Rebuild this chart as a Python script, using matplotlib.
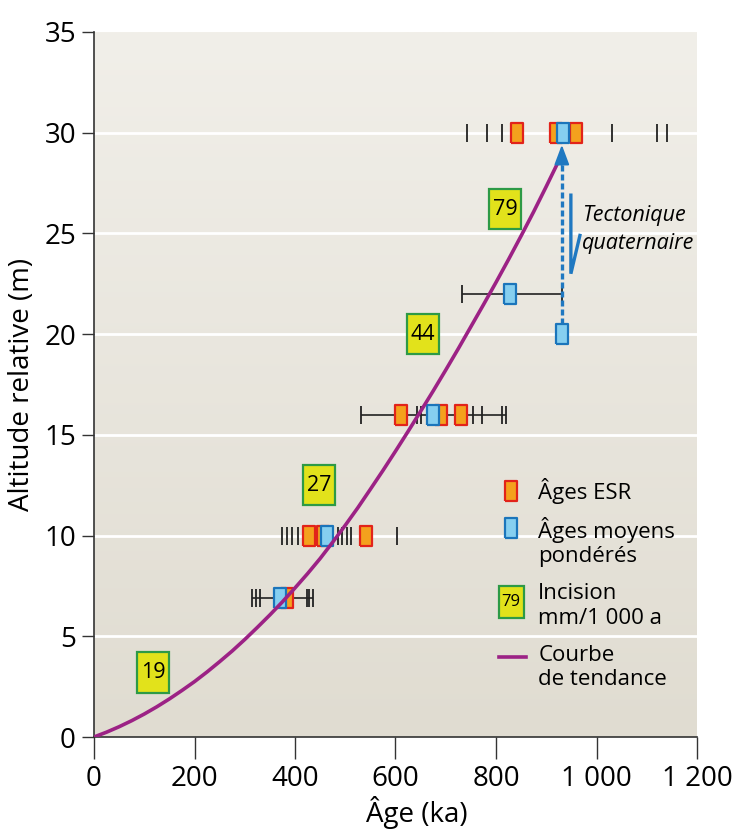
import numpy as np
import matplotlib
matplotlib.use("Agg")
import matplotlib.pyplot as plt
from matplotlib.patches import Rectangle

# --- DATA ----------------------------------------------------------
# ESR ages (ka) and their relative altitude (m)
esr_age = [842, 920, 960, 610, 690, 730, 428, 455, 541, 385]
esr_alt = [30, 30, 30, 16, 16, 16, 10, 10, 10, 6.9]

# weighted mean ages
mean_age = [933, 828, 931, 674, 464, 371]
mean_alt = [30, 22, 20, 16, 10, 6.9]

# individual age estimates / range ends (tick marks)
ind_age = [742, 782, 812, 1031, 1120, 1140,
           732, 931,
           531, 643, 650, 755, 773, 812, 820,
           374, 384, 394, 406, 485, 493, 503, 512, 602,
           315, 322, 330, 423, 428, 435]
ind_alt = [30] * 6 + [22] * 2 + [16] * 7 + [10] * 9 + [6.9] * 6

# age ranges drawn as horizontal lines
range_alt = [22, 16, 6.9]
range_lo = [732, 531, 315]
range_hi = [931, 820, 435]

# incision rates (mm/1000 a)
inc_rate = [19, 27, 44, 79]
inc_age = [118, 448, 655, 818]
inc_alt = [3.2, 12.5, 20.0, 26.2]

# trend curve
trend_age = [0, 25, 50, 75, 100, 125, 150, 175, 200, 225, 250, 275, 300,
             325, 350, 375, 400, 425, 450, 475, 500, 525, 550, 575, 600,
             625, 650, 675, 700, 725, 750, 775, 800, 825, 850, 875, 900, 925]
trend_alt = [0, 0.24, 0.51, 0.81, 1.14, 1.50, 1.89, 2.31, 2.75, 3.23, 3.74,
             4.27, 4.84, 5.44, 6.06, 6.71, 7.40, 8.11, 8.86, 9.67, 10.51,
             11.38, 12.30, 13.23, 14.19, 15.17, 16.17, 17.18, 18.22, 19.28,
             20.37, 21.46, 22.57, 23.71, 24.88, 26.08, 27.33, 28.61]

# tectonic uplift: lowered terrace -> its projected position
tecto_age = 931
tecto_from = 20.5
tecto_to = 29.4

# --- STYLE ---------------------------------------------------------
plt.rcParams['font.family'] = ['Open Sans', 'DejaVu Sans']
orange, red = "#f4a11d", "#e2231a"
lblue, dblue = "#86cff0", "#1b75bb"
yellow, green = "#e2e21b", "#2d9a46"
purple = "#9c2285"
arrow_blue = "#1f78c1"

box = [(-0.31, -0.5), (0.31, -0.5), (0.31, 0.5), (-0.31, 0.5), (-0.31, -0.5)]

fig = plt.figure(figsize=(7.36, 8.32), dpi=100)
ax = fig.add_axes([94 / 736, 1 - 737 / 832, 603 / 736, 705 / 832])

# background gradient, light at the top
grad = np.linspace(0, 1, 256).reshape(-1, 1)
cmap = matplotlib.colors.LinearSegmentedColormap.from_list("bg", ["#f1efe9", "#e0dcd1"])
ax.imshow(grad, extent=[0, 1200, 0, 35], aspect="auto", cmap=cmap, zorder=0)

for yv in [5, 10, 15, 20, 25, 30]:
    ax.axhline(yv, color="white", lw=2, zorder=1)

ax.hlines(range_alt, range_lo, range_hi, color="#222222", lw=1.2, zorder=2)
ax.plot(ind_age, ind_alt, ls="none", marker="|", ms=12.5, mew=1.3, color="#222222", zorder=3)
ax.plot(esr_age, esr_alt, ls="none", marker=box, ms=14.5, mfc=orange, mec=red, mew=1.6, zorder=4)
ax.plot(mean_age, mean_alt, ls="none", marker=box, ms=14.5, mfc=lblue, mec=dblue, mew=1.6, zorder=5)

ax.plot(trend_age, trend_alt, color=purple, lw=2.6, zorder=6,
        solid_capstyle="round", solid_joinstyle="round")

# tectonic arrow
ax.plot([tecto_age, tecto_age], [tecto_from, tecto_to - 0.9], color=arrow_blue,
        lw=2.4, ls=(0, (1.8, 0.9)), zorder=4)
ax.annotate("", xy=(tecto_age, tecto_to), xytext=(tecto_age, tecto_to - 1.0),
            arrowprops=dict(arrowstyle="-|>,head_length=1.2,head_width=0.45",
                            color=arrow_blue, lw=1.5, shrinkA=0, shrinkB=0), zorder=7)
ax.plot([949, 949, 967], [26.9, 23.0, 24.9], color=arrow_blue, lw=2.4,
        solid_joinstyle="miter", zorder=4)
ax.text(972, 25.9, "Tectonique", style="italic", fontsize=15.5, va="center", ha="left")
ax.text(971, 24.5, "quaternaire", style="italic", fontsize=15.5, va="center", ha="left")

# incision boxes (about 32 x 40 px)
bw, bh = 64, 2.0
for r, a, h in zip(inc_rate, inc_age, inc_alt):
    ax.add_patch(Rectangle((a - bw / 2, h - bh / 2), bw, bh, fc=yellow, ec=green,
                           lw=1.6, zorder=5))
    ax.text(a, h, str(r), fontsize=15.5, ha="center", va="center", zorder=6)

# legend (drawn by hand)
lx, tx = 830, 884
ax.plot([lx], [12.2], marker=box, ms=14.5, mfc=orange, mec=red, mew=1.6, ls="none")
ax.plot([lx], [10.4], marker=box, ms=14.5, mfc=lblue, mec=dblue, mew=1.6, ls="none")
ax.add_patch(Rectangle((lx - 25, 6.7 - 0.8), 50, 1.6, fc=yellow, ec=green, lw=1.6, zorder=5))
ax.text(lx, 6.7, "79", fontsize=12, ha="center", va="center", zorder=6)
ax.plot([806, 860], [3.97, 3.97], color=purple, lw=2.6)
ax.text(tx, 12.2, "Âges ESR", fontsize=16, va="center")
ax.text(tx, 9.7, "Âges moyens\npondérés", fontsize=16, va="center", linespacing=1.2)
ax.text(tx, 6.5, "Incision\nmm/1 000 a", fontsize=16, va="center", linespacing=1.2)
ax.text(tx, 3.45, "Courbe\nde tendance", fontsize=16, va="center", linespacing=1.2)

# axes
ax.set_xlim(0, 1200)
ax.set_ylim(0, 35)
ax.set_xticks([0, 200, 400, 600, 800, 1000, 1200])
ax.set_xticklabels(["0", "200", "400", "600", "800", "1 000", "1 200"])
ax.set_yticks([0, 5, 10, 15, 20, 25, 30, 35])
for s in ["top", "right"]:
    ax.spines[s].set_visible(False)
for s in ["left", "bottom"]:
    ax.spines[s].set_color("#333333")
    ax.spines[s].set_linewidth(1.2)
ax.tick_params(axis="x", length=16, width=1, color="#333333", labelsize=20, pad=4)
ax.tick_params(axis="y", length=9, width=1, color="#333333", labelsize=20, pad=4)
ax.set_xlabel("Âge (ka)", fontsize=20)
ax.xaxis.set_label_coords(0.536, -0.083)
ax.set_ylabel("Altitude relative (m)", fontsize=20, labelpad=6)

fig.savefig("out.png", dpi=100)
